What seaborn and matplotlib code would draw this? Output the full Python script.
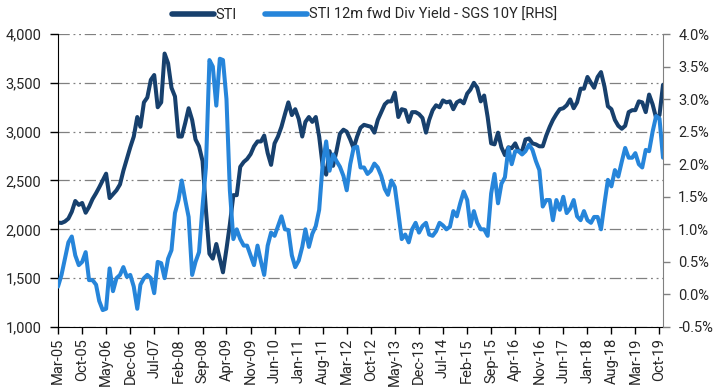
import pandas as pd
import seaborn as sns
import matplotlib.pyplot as plt
import matplotlib.ticker as mticker
from matplotlib.lines import Line2D

# monthly readings, Mar-05 .. Nov-19
months = pd.date_range("2005-03-01", "2019-11-01", freq="MS")

sti = [
    2070, 2065, 2080, 2110, 2180, 2290, 2250, 2270, 2170, 2230,
    2310, 2370, 2430, 2500, 2570, 2320, 2360, 2400, 2460, 2600,
    2720, 2840, 2950, 3150, 3050, 3300, 3350, 3530, 3580, 3250,
    3300, 3800, 3700, 3450, 3360, 2950, 2950, 3090, 3240, 3120,
    2920, 2850, 2700, 2200, 1750, 1700, 1850, 1700, 1560, 1800,
    2050, 2350, 2350, 2640, 2690, 2720, 2770, 2850, 2900, 2900,
    2960, 2780, 2660, 2880, 2950, 3050, 3180, 3300, 3170, 3230,
    3130, 2950, 3100, 3150, 3100, 3150, 2950, 2650, 2560, 2800,
    2650, 2800, 2980, 3020, 3000, 2920, 2830, 2950, 3040, 3070,
    3060, 3050, 2990, 3120, 3200, 3280, 3310, 3310, 3400, 3150,
    3230, 3220, 3100, 3200, 3200, 3180, 3140, 2990, 3120, 3220,
    3270, 3250, 3320, 3300, 3310, 3230, 3300, 3320, 3290, 3390,
    3430, 3500, 3450, 3310, 3370, 3150, 2880, 2870, 2990, 2840,
    2760, 2840, 2830, 2880, 2800, 2800, 2920, 2930, 2880, 2870,
    2850, 2850, 2960, 3050, 3120, 3180, 3230, 3240, 3270, 3330,
    3240, 3300, 3440, 3440, 3560, 3500, 3450, 3560, 3610, 3460,
    3260, 3230, 3120, 3060, 3030, 3060, 3200, 3220, 3220, 3310,
    3300, 3200, 3380, 3280, 3140, 3170, 3480,
]

div_gap = [
    0.12, 0.30, 0.55, 0.80, 0.89, 0.60, 0.45, 0.50, 0.65, 0.22,
    0.22, 0.15, -0.10, -0.24, -0.22, 0.40, 0.05, 0.25, 0.30, 0.42,
    0.27, 0.30, 0.12, -0.22, 0.15, 0.25, 0.30, 0.25, 0.02, 0.50,
    0.48, 0.25, 0.55, 0.68, 1.25, 1.45, 1.75, 1.45, 1.19, 0.30,
    0.50, 0.65, 1.35, 1.95, 3.60, 3.50, 2.90, 3.62, 3.60, 3.00,
    1.60, 0.85, 1.00, 0.85, 0.75, 0.75, 0.60, 0.45, 0.75, 0.50,
    0.30, 0.75, 0.95, 0.90, 1.05, 1.20, 1.00, 0.99, 0.60, 0.42,
    0.52, 0.73, 1.00, 0.73, 0.93, 1.05, 1.30, 2.00, 2.35, 1.90,
    2.15, 2.05, 1.96, 1.82, 1.60, 2.00, 2.25, 2.27, 1.95, 1.95,
    1.85, 1.90, 2.01, 1.95, 1.82, 1.62, 1.53, 1.75, 1.65, 1.25,
    0.85, 0.92, 0.80, 1.00, 1.10, 0.95, 1.05, 1.10, 0.92, 0.90,
    0.97, 1.10, 1.06, 1.00, 1.04, 1.28, 1.20, 1.40, 1.58, 1.45,
    1.05, 1.28, 1.10, 1.00, 1.00, 0.90, 1.55, 1.85, 1.40, 1.70,
    1.80, 2.25, 2.00, 2.20, 2.20, 2.15, 2.20, 2.30, 2.22, 2.05,
    1.91, 1.35, 1.45, 1.45, 1.14, 1.45, 1.30, 1.50, 1.25, 1.32,
    1.45, 1.20, 1.14, 1.28, 1.14, 1.10, 1.19, 1.19, 1.00, 1.40,
    1.76, 1.66, 1.91, 1.81, 2.04, 2.25, 2.10, 2.10, 2.17, 2.00,
    1.95, 2.22, 2.20, 2.50, 2.74, 2.70, 2.10,
]

tick_dates = pd.date_range("2005-03-01", periods=26, freq="7MS")
labels = ["STI", "STI 12m fwd Div Yield - SGS 10Y [RHS]"]

sns.set_style("white")
plt.rcParams["font.family"] = ["Roboto", "DejaVu Sans"]

navy = "#17406D"
blue = "#2685DA"
grey = "#808080"

fig = plt.figure(figsize=(7.26, 3.9), dpi=100)
ax = fig.add_axes([58 / 726, 63 / 390, 605 / 726, 293 / 390])
ax2 = ax.twinx()

sns.lineplot(x=months, y=sti, ax=ax, color=navy, lw=2.9)
sns.lineplot(x=months, y=div_gap, ax=ax2, color=blue, lw=2.9)

ax.set_xlim(months[0], months[-1])
ax.set_ylim(1000, 4000)
ax.set_yticks(range(1000, 4001, 500))
ax.yaxis.set_major_formatter(mticker.StrMethodFormatter("{x:,.0f}"))
ax2.set_ylim(-0.5, 4.0)
ax2.set_yticks([i * 0.5 - 0.5 for i in range(10)])
ax2.yaxis.set_major_formatter(mticker.FuncFormatter(lambda v, p: f"{v:.1f}%"))

ax.set_xticks(tick_dates)
ax.set_xticklabels([d.strftime("%b-%y") for d in tick_dates], rotation=90)

ax.yaxis.grid(True, color=grey, lw=0.9, linestyle=(0, (9, 3, 1.5, 3, 1.5, 3)))
ax.xaxis.grid(False)
ax.set_axisbelow(True)

for s in ["top", "right"]:
    ax.spines[s].set_visible(False)
for s in ["top", "left", "bottom"]:
    ax2.spines[s].set_visible(False)
ax.spines["left"].set_color("black")
ax.spines["bottom"].set_color("black")
ax2.spines["right"].set_color(grey)

ax.tick_params(axis="y", left=True, length=6, width=1, color="black", pad=6, labelsize=10.5)
ax.tick_params(axis="x", bottom=True, length=5, width=1, color="black", pad=3, labelsize=10.5)
ax2.tick_params(axis="y", right=True, length=5, width=1, color=grey, pad=6, labelsize=10.5)

ax.set_xlabel("")
ax.set_ylabel("")
ax2.set_ylabel("")

handles = [Line2D([], [], color=navy, lw=4), Line2D([], [], color=blue, lw=4)]
fig.legend(handles, labels, loc="center", bbox_to_anchor=(0.502, 0.962), ncol=2,
           frameon=False, handlelength=2.9, handletextpad=0.1, columnspacing=1.9,
           fontsize=10.5)

plt.savefig("out.png", dpi=100)
